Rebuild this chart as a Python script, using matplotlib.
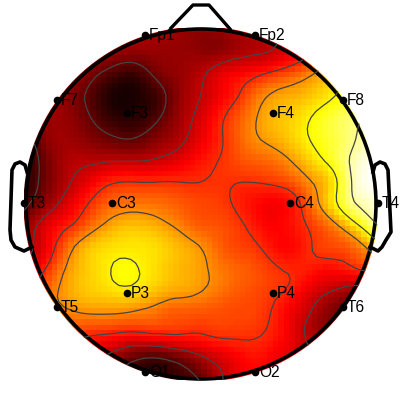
import numpy as np
import matplotlib
matplotlib.use('Agg')
import matplotlib.pyplot as plt
import matplotlib.tri as mtri
from matplotlib.patches import Circle

plt.rcParams['font.family'] = ['Liberation Sans', 'DejaVu Sans']

# --- Data ---
# sample positions of the scalp map (in image pixels)
GRID_X = [24, 46, 68, 90, 112, 135, 157, 179, 201, 223, 245, 267, 290, 312, 334, 356, 378]
GRID_Y = [28, 50, 72, 94, 116, 138, 160, 182, 204, 226, 248, 270, 292, 314, 336, 358, 380]

# amplitude at each sample, 0 = black, 1 = white
AMPLITUDE = [
    [.20, .20, .20, .21, .22, .24, .24, .22, .20, .22, .26, .30, .36, .42, .50, .60, .66],
    [.20, .20, .20, .22, .21, .20, .21, .21, .20, .21, .25, .27, .33, .41, .52, .62, .70],
    [.22, .22, .22, .17, .10, .08, .16, .21, .26, .33, .37, .42, .48, .56, .66, .76, .80],
    [.24, .24, .19, .11, .03, .03, .09, .20, .28, .36, .46, .57, .62, .66, .72, .80, .85],
    [.20, .22, .20, .13, .06, .05, .11, .22, .31, .42, .52, .62, .67, .73, .80, .86, .92],
    [.08, .20, .22, .18, .14, .13, .19, .25, .34, .43, .53, .60, .66, .74, .80, .88, .95],
    [.05, .17, .25, .26, .27, .27, .29, .33, .39, .44, .49, .52, .58, .68, .78, .92, 1.0],
    [.05, .17, .27, .35, .42, .43, .43, .43, .43, .44, .43, .44, .48, .58, .70, .92, 1.0],
    [.10, .22, .33, .44, .52, .54, .53, .50, .47, .45, .40, .36, .38, .52, .70, .88, .95],
    [.20, .33, .42, .53, .62, .65, .62, .56, .50, .48, .43, .37, .38, .45, .55, .70, .88],
    [.24, .36, .54, .66, .70, .71, .69, .64, .58, .50, .46, .41, .37, .43, .47, .52, .66],
    [.30, .44, .60, .68, .733, .738, .69, .64, .60, .54, .50, .46, .42, .40, .38, .42, .45],
    [.40, .52, .62, .67, .70, .70, .65, .61, .58, .53, .49, .46, .41, .33, .27, .22, .20],
    [.45, .52, .56, .58, .58, .56, .53, .50, .49, .48, .47, .44, .36, .27, .18, .14, .14],
    [.40, .44, .46, .43, .41, .39, .41, .42, .42, .44, .44, .42, .35, .25, .20, .16, .15],
    [.35, .35, .35, .30, .24, .15, .13, .18, .26, .33, .38, .38, .33, .30, .25, .20, .18],
    [.25, .25, .22, .20, .15, .06, .05, .08, .14, .28, .35, .36, .33, .30, .25, .20, .18],
]

CONTOUR_LEVELS = [.13, .28, .43, .58, .73, .88]

CHANNELS = ['Fp1', 'Fp2', 'F7', 'F3', 'F4', 'F8', 'T3', 'C3', 'C4', 'T4',
            'T5', 'P3', 'P4', 'T6', 'O1', 'O2']
CHANNEL_X = [145, 255, 57, 127, 273, 343, 24, 112, 290, 378, 57, 127, 273, 343, 145, 255]
CHANNEL_Y = [35, 35, 100, 113, 113, 100, 203, 203, 203, 203, 307, 293, 293, 307, 372, 372]

# head outline
NOSE_X = [171, 193, 209, 230]
NOSE_Y = [28, 5, 5, 29]
LEFT_EAR_X = [27, 25, 20, 15, 12, 10, 11, 15, 24, 32]
LEFT_EAR_Y = [172, 165, 162, 164, 170, 230, 240, 247, 251, 247]
RIGHT_EAR_X = [373, 375, 380, 385, 388, 391, 386, 382, 378, 370]
RIGHT_EAR_Y = [172, 165, 162, 164, 170, 232, 240, 247, 251, 247]

# --- Interpolate the samples on to the map's pixel blocks ---
gx, gy = np.meshgrid(GRID_X, GRID_Y)
tri = mtri.Triangulation(gx.ravel(), gy.ravel())
interp = mtri.CubicTriInterpolator(tri, np.array(AMPLITUDE).ravel(), kind='min_E')

n_blocks = 64
xs = np.linspace(GRID_X[0], GRID_X[-1], n_blocks)
ys = np.linspace(GRID_Y[0], GRID_Y[-1], n_blocks)
mx, my = np.meshgrid(xs, ys)
field = interp(mx, my)

# --- Figure ---
fig = plt.figure(figsize=(4, 4), dpi=100)
ax = fig.add_axes([0, 0, 1, 1])
ax.set_xlim(0, 400)
ax.set_ylim(400, 0)
ax.axis('off')

clip = Circle((201, 204), 177.5, transform=ax.transData)
im = ax.imshow(field, cmap='hot', vmin=0, vmax=1, interpolation='nearest',
               extent=[xs[0], xs[-1], ys[-1], ys[0]], aspect='auto')
im.set_clip_path(clip)
ax.set_xlim(0, 400)
ax.set_ylim(400, 0)

cs = ax.contour(mx, my, field, levels=CONTOUR_LEVELS, colors='#444444', linewidths=0.9)
cs.set_clip_path(clip)

# head
ax.add_patch(Circle((201, 204), 175, fill=False, ec='k', lw=2.6))
ax.plot(NOSE_X, NOSE_Y, 'k', lw=2.4)
ax.plot(LEFT_EAR_X, LEFT_EAR_Y, 'k', lw=2.6)
ax.plot(RIGHT_EAR_X, RIGHT_EAR_Y, 'k', lw=2.6)

# sensors
ax.plot(CHANNEL_X, CHANNEL_Y, 'o', color='k', ms=4.5, ls='none')
for name, x, y in zip(CHANNELS, CHANNEL_X, CHANNEL_Y):
    ax.text(x + 4, y + 0.5, name, fontsize=11.2, color='k', va='center', ha='left')

fig.savefig('out.png', dpi=100)
